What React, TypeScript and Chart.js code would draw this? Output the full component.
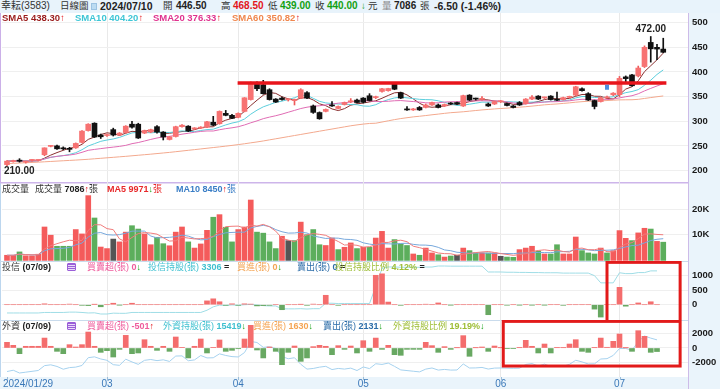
import React, { useEffect, useRef } from "react";
import { Chart, registerables } from "chart.js";
Chart.register(...registerables);

const FONT = "'Liberation Sans','Noto Sans CJK TC',sans-serif";
Chart.defaults.font.family = "'Liberation Sans', sans-serif";

// ---------- DATA ----------
const tradingDays: [string, number[]][] = [
  ["01", [29, 30, 31]],
  ["02", [1, 2, 5, 15, 16, 19, 20, 21, 22, 23, 26, 27, 29]],
  ["03", [1, 4, 5, 6, 7, 8, 11, 12, 13, 14, 15, 18, 19, 20, 21, 22, 25, 26, 27, 28, 29]],
  ["04", [1, 2, 3, 8, 9, 10, 11, 12, 15, 16, 17, 18, 19, 22, 23, 24, 25, 26, 29, 30]],
  ["05", [2, 3, 6, 7, 8, 9, 10, 13, 14, 15, 16, 17, 20, 21, 22, 23, 24, 27, 28, 29, 30, 31]],
  ["06", [3, 4, 5, 6, 7, 11, 12, 13, 14, 17, 18, 19, 20, 21, 24, 25, 26, 27, 28]],
  ["07", [1, 2, 3, 4, 5, 8, 9, 10]],
];
const dates = tradingDays.flatMap(([m, ds]) => ds.map((d) => `2024/${m}/${String(d).padStart(2, "0")}`));

const opens = [
  212, 218, 221, 217, 220.5, 220.5, 232, 249, 250, 246,
  245, 246, 257, 281, 296, 272, 271, 283, 272, 277,
  294, 294, 276, 278, 289, 278, 263, 269, 289, 290,
  284.5, 286, 288, 298, 295, 316, 312, 308, 320, 344,
  376, 374, 364, 345, 347, 343.5, 342, 347, 358, 331,
  317.7, 320, 332, 326, 334, 339.5, 343, 347, 351.7, 348,
  360.5, 362, 376, 358, 324, 323, 328, 328, 333, 333,
  331, 336, 338, 331, 353, 345.5, 344.5, 335, 335, 339.5,
  336, 331, 338, 336, 345, 351, 347.5, 351, 344.5, 344,
  348.5, 353, 366, 356, 342, 340, 347.5, 353.7, 354, 390,
  394, 392, 411, 460, 450, 446.5,
];
const highs = [
  220, 221, 224, 219, 222, 221.5, 246, 251, 251.5, 248,
  247, 256, 281, 295, 297, 274, 274, 286, 277, 291,
  300, 296, 282, 284, 291, 279, 269, 290, 293, 291,
  287, 289, 300, 310, 321, 322, 314, 317, 348, 380,
  380, 383, 366, 346, 349, 346, 345, 366, 360, 333,
  319, 325, 340, 331, 339, 346, 345, 348, 356, 351,
  367, 367, 379, 359, 330, 326, 330, 335, 339, 335,
  335, 338, 339, 353, 354, 347, 350, 337, 341, 342,
  337, 332, 340, 346, 352, 352, 349, 352, 359, 349,
  351, 371, 368, 358, 343, 349, 351, 358, 391, 392,
  395, 412, 453, 472, 456, 468.5,
];
const lows = [
  210, 217, 217, 215, 219, 219.5, 230, 248, 243, 242,
  238, 245, 256, 280, 267, 265, 269, 270, 271, 276,
  286, 265, 275, 277, 276, 262, 262, 268, 288, 279,
  283, 285, 287, 291, 294, 311, 305, 307, 319, 343,
  362, 355, 343, 338, 343, 341, 333, 346, 346, 316,
  304, 319, 330, 325, 333, 338, 337, 337, 341, 346,
  359, 361, 364, 346, 322, 322, 322, 327, 332, 327,
  330, 334, 334, 330, 342, 343, 343, 330, 334, 338,
  331, 327, 332, 335, 344, 344, 346, 343, 342, 343,
  347, 352, 361, 342, 325, 339, 347, 352, 350, 378,
  371, 390, 409, 420, 425, 439,
];
const closes = [
  219, 220, 219, 218.5, 221, 221, 246, 250, 244, 244,
  243, 255, 280, 294, 268, 268.5, 272, 272, 276, 290,
  288, 266, 281, 283, 278, 268, 268.5, 289, 292, 280,
  285, 288, 299, 292, 320, 312, 306, 316, 347.6, 378,
  366, 356, 344, 339, 344, 344, 343, 364, 347, 318,
  305, 324, 331, 330, 338, 340, 338, 338.5, 342, 349,
  366, 366.5, 365, 347, 323, 325, 323, 333, 338, 328,
  334, 335, 335, 352, 343, 345, 345.5, 331, 340, 340,
  332, 328, 333, 345, 349, 345, 348, 344, 342.6, 348,
  349, 370, 362, 343, 330, 348, 348, 357, 387, 386.5,
  372, 408, 450, 447, 446.5, 440,
];
// SMA60 before a full 60-day window exists
const sma60Head = [
  214, 214.6, 215.2, 215.8, 216.4, 217, 217.7, 218.4, 219.1, 219.8,
  220.5, 221.2, 222, 222.8, 223.8, 224.8, 225.8, 226.8, 227.8, 228.8,
  229.9, 231, 232.1, 233.2, 234.4, 235.6, 236.8, 238.2, 239.6, 241,
  242.4, 243.8, 245.2, 246.6, 248, 249.5, 251, 252.6, 254.3, 256.2,
  258, 260, 262.2, 264.4, 266.6, 268.8, 271, 273.2, 275.4, 277.6,
  279.8, 282, 284.2, 286.4, 288.6, 290.8, 292.6, 294.2, 295.5,
];
const volumes = [
  2000, 2000, 3300, 1800, 1800, 2400, 13000, 9800, 5500, 5500,
  5500, 12000, 10300, 25200, 16500, 5200, 4600, 8300, 7200, 11000,
  13500, 12200, 10300, 6100, 9000, 6500, 5700, 11000, 13000, 7200,
  4800, 6400, 11700, 16800, 17800, 12900, 7200, 12000, 13000, 23500,
  11000, 10600, 7200, 4600, 9400, 7700, 7700, 14900, 10000, 12000,
  6100, 5800, 8700, 4200, 5100, 6800, 4600, 5100, 5100, 8700,
  11300, 4800, 8100, 6400, 5800, 2500, 2000, 4800, 2900, 2200,
  1300, 1700, 2000, 4800, 3800, 2900, 2900, 2900, 2900, 1600,
  1300, 1200, 4200, 4800, 5500, 3600, 2500, 2500, 6100, 2500,
  2500, 9100, 3800, 2900, 2500, 4800, 2900, 3800, 11600, 8600,
  7700, 10700, 12500, 12200, 7400, 7086,
];
// r = up, g = down, k = unchanged (versus previous close)
const volDir =
  "rrgrrrrrgg" + "grrrgrrkrr" + "ggrrggrrrg" + "rrrgrggrrr" + "ggggrkgrgg" +
  "grrgrrgrgr" + "rrgggrgrrg" + "rgkrggrgrk" + "ggrrrgrggr" + "rrgggrgrrr" + "grrgrg";
const trustNet: (number | null)[] = [
  0, 0, 0, 0, 0, 0, 30, 0, 0, 0,
  20, 0, -20, -30, 10, -70, 0, 50, -10, 0,
  50, 0, 0, 0, 0, 0, 0, 0, 0, 0,
  0, 0, 130, 200, 100, -20, 30, -20, 30, 20,
  -40, -30, -20, 0, -170, 0, 0, 10, -20, 20,
  0, 320, 0, -20, 0, 0, 0, 0, 0, 1000,
  1050, 90, 0, -20, 0, 0, 0, 15, 0, 60,
  0, -10, 0, 0, 0, 0, 0, -340, 0, 0,
  -15, 0, -10, 0, -10, 0, -10, 0, 0, -20,
  0, 0, 0, 0, -150, -420, 0, 0, 590, -50,
  0, 60, 0, 100, 0, null,
];
const foreignNet: (number | null)[] = [
  800, 380, -800, 240, 240, 240, 1400, 240, -470, -800,
  470, 140, 470, 2250, 240, -610, -380, -1270, -190, 1780,
  -800, -700, 1170, 240, -330, 240, -470, 1550, 50, -1400,
  240, 1270, -700, 50, 1130, -470, -330, -100, 1270, 3190,
  -280, -1400, 140, -470, -2350, -610, 280, -1880, -1400, 190,
  380, 240, -940, 330, -190, 280, -700, 1030, -470, 1400,
  -190, 380, -940, -1030, -190, -190, -190, 800, 330, -610,
  190, -190, 30, 1740, -1170, 30, 140, -470, 280, 30,
  -50, -50, 40, 1080, 240, -700, 560, -700, 40, 40,
  560, 1170, -470, -610, 40, 1400, 100, 940, 1970, 20,
  -470, 2440, 1640, -610, -501, null,
];
const trustHoldLast = 3306;
const foreignHoldLast = 15419;
const smaLegend = ["438.30", "404.20", "376.33", "350.82"];
const volMaLegend = ["9971", "8450"];

const priceTicks = [200, 225, 250, 275, 300, 325, 350, 375, 400, 425, 450, 475, 500];
const volTicks = [10000, 20000];
const trustTicks = [0, 500, 1000];
const foreignTicks = [-2000, 0, 2000];

const PRICE_RANGE = [176.7, 519.7];
const VOL_RANGE = [-233, 30506];
const TRUST_RANGE = [-520, 1486];
const FOREIGN_RANGE = [-4085, 3944];
const X_RANGE = [-0.8, 108.96];

// annotations (drawn in data units)
const resistance = { price: 377.6, from: 36.9, to: 105.5 };
const trustBox = { x0: 96, x1: 107.7, top: 1440, bottom: -700 };
const foreignBox = { x0: 79.4, x1: 107.7, top: 3750, bottom: -2540 };
const blueMark = { idx: 96, price: 369 };

// ---------- DERIVED ----------
const N = closes.length;
const idx = closes.map((_, i) => i);
function sma(values: number[], n: number, head?: number[]) {
  return values.map((_, i) => {
    if (head && i < head.length) return head[i];
    const w = values.slice(Math.max(0, i - n + 1), i + 1);
    return w.reduce((a, b) => a + b, 0) / w.length;
  });
}
function holdings(net: (number | null)[], last: number) {
  const total = net.reduce((a: number, b) => a + (b ?? 0), 0);
  let h = last - total;
  return net.map((v) => (v == null ? null : (h += v)));
}
function fitAxis(vals: (number | null)[], top: number, bottom: number, H: number) {
  const v = vals.filter((x) => x != null) as number[];
  const lo = Math.min(...v), hi = Math.max(...v);
  const R = ((hi - lo) * H) / (bottom - top);
  const max = hi + (R * top) / H;
  return { min: max - R, max };
}
const monthTicks = (() => {
  const out = [{ idx: 0, label: dates[0] }];
  for (let i = 1; i < dates.length; i++) {
    const m = dates[i].slice(5, 7);
    if (m !== dates[i - 1].slice(5, 7) && i >= 10) out.push({ idx: i, label: m });
  }
  return out;
})();

const UP = "#f77272", UP_EDGE = "#ee5a5a", DOWN = "#111111";
const V_RED = "#f45b5b", V_GREEN = "#5cae5c", V_GRAY = "#555555";
const B_RED = "#f46d6d", B_GREEN = "#68a862";

function xAxis(labels: boolean) {
  return {
    type: "linear",
    min: X_RANGE[0],
    max: X_RANGE[1],
    offset: false,
    bounds: "data",
    afterBuildTicks: (s: any) => { s.ticks = monthTicks.map((t) => ({ value: t.idx })); },
    ticks: { display: false },
    grid: {
      offset: false,
      color: (c: any) => (c.tick && c.tick.value === 0 ? "rgba(0,0,0,0)" : "#e9e9e9"),
      drawTicks: false,
    },
    border: { display: false },
    afterFit: (s: any) => { s.height = labels ? 12 : 0; s.paddingLeft = 0; s.paddingRight = 0; },
  };
}
function yAxis(range: number[], ticks: number[], fmt?: (v: number) => string) {
  return {
    position: "right",
    min: range[0],
    max: range[1],
    afterBuildTicks: (s: any) => { s.ticks = ticks.map((v) => ({ value: v })); },
    afterFit: (s: any) => { s.width = 32; s.paddingTop = 0; s.paddingBottom = 0; },
    ticks: {
      padding: 4,
      color: "#1a1a1a",
      font: { size: 9.5, weight: "bold" },
      callback: (v: any) => (fmt ? fmt(Number(v)) : String(v)),
    },
    grid: { color: "#efefef", drawTicks: false },
    border: { display: false },
  };
}
function frame(opts: { edge: string; topLine?: string; topWidth?: number; bottomBand?: boolean }) {
  return {
    id: "frame",
    beforeDraw(chart: any) {
      const { ctx, chartArea: a, width, height } = chart;
      ctx.save();
      ctx.fillStyle = "#eaf4fb";
      ctx.fillRect(a.right, 0, width - a.right, height);
      if (opts.bottomBand) ctx.fillRect(0, a.bottom, a.right, height - a.bottom);
      ctx.strokeStyle = opts.edge;
      ctx.lineWidth = 1;
      ctx.beginPath();
      ctx.moveTo(0.5, 0);
      ctx.lineTo(0.5, opts.bottomBand ? a.bottom : height);
      ctx.stroke();
      ctx.strokeStyle = "#cdbbe9";
      ctx.beginPath();
      ctx.moveTo(a.right + 0.5, 0);
      ctx.lineTo(a.right + 0.5, height);
      ctx.stroke();
      if (opts.topLine) {
        ctx.fillStyle = opts.topLine;
        ctx.fillRect(0, 0, a.right, opts.topWidth || 1);
      }
      ctx.restore();
    },
  };
}
const baseOpts = {
  animation: false,
  responsive: false,
  events: [],
  layout: { padding: { left: 2, right: 0, top: 0, bottom: 0 } },
  plugins: { legend: { display: false }, tooltip: { enabled: false } },
};

function useChart(build: () => any) {
  const ref = useRef<HTMLCanvasElement>(null);
  useEffect(() => {
    if (!ref.current) return;
    const c = new Chart(ref.current, build());
    return () => c.destroy();
  }, []);
  return ref;
}

function PriceChart() {
  const ref = useChart(() => {
    const sma5 = sma(closes, 5), sma10 = sma(closes, 10), sma20 = sma(closes, 20), sma60 = sma(closes, 60, sma60Head);
    const up = idx.map((i) => closes[i] >= opens[i]);
    const line = (vals: number[], color: string) => ({
      type: "line",
      data: idx.map((i) => ({ x: i, y: vals[i] })),
      borderColor: color,
      borderWidth: 1,
      pointRadius: 0,
      tension: 0,
      order: 3,
    });
    const annot = {
      id: "annot",
      afterDatasetsDraw(chart: any) {
        const { ctx, scales: { x, y }, chartArea: a } = chart;
        ctx.save();
        ctx.strokeStyle = "#e8141b";
        ctx.lineWidth = 3.5;
        ctx.beginPath();
        ctx.moveTo(x.getPixelForValue(resistance.from), y.getPixelForValue(resistance.price));
        ctx.lineTo(x.getPixelForValue(resistance.to), y.getPixelForValue(resistance.price));
        ctx.stroke();
        let hiI = 0, loI = 0;
        idx.forEach((i) => { if (highs[i] > highs[hiI]) hiI = i; if (lows[i] < lows[loI]) loI = i; });
        ctx.font = "bold 10px 'Liberation Sans'";
        ctx.fillStyle = "#222";
        ctx.textAlign = "center";
        ctx.textBaseline = "bottom";
        ctx.fillText(highs[hiI].toFixed(2), x.getPixelForValue(hiI), y.getPixelForValue(highs[hiI]) - 2);
        const loTxt = lows[loI].toFixed(2);
        const w = ctx.measureText(loTxt).width;
        const lx = Math.max(a.left + 2 + w / 2, x.getPixelForValue(loI));
        ctx.textBaseline = "top";
        ctx.fillText(loTxt, lx, y.getPixelForValue(lows[loI]) + 1);
        ctx.fillStyle = "#4d8fe0";
        const bx = x.getPixelForValue(blueMark.idx), by = y.getPixelForValue(blueMark.price);
        ctx.fillRect(bx - 2, by - 2.5, 4, 5);
        ctx.restore();
      },
    };
    return {
      type: "bar",
      data: {
        datasets: [
          {
            type: "bar",
            data: idx.map((i) => ({ x: i, y: [lows[i], highs[i]] })),
            backgroundColor: idx.map((i) => (up[i] ? UP_EDGE : DOWN)),
            barThickness: 1,
            grouped: false,
            order: 2,
          },
          {
            type: "bar",
            data: idx.map((i) => ({ x: i, y: [opens[i], closes[i]] })),
            backgroundColor: idx.map((i) => (up[i] ? UP : DOWN)),
            borderWidth: 0,
            barThickness: 5,
            minBarLength: 1,
            grouped: false,
            order: 1,
          },
          line(sma60, "#f3a98e"),
          line(sma20, "#e06cb4"),
          line(sma10, "#5ccedc"),
          line(sma5, "#8a3030"),
        ],
      },
      options: { ...baseOpts, scales: { x: xAxis(false), y: yAxis(PRICE_RANGE, priceTicks) } },
      plugins: [frame({ edge: "#cbb0e8" }), annot],
    };
  });
  return <canvas ref={ref} width={720} height={169} style={{ position: "absolute", left: 0, top: 13 }} />;
}

function VolumeChart() {
  const ref = useChart(() => {
    const ma5 = sma(volumes, 5), ma10 = sma(volumes, 10);
    const col = (c: string) => (c === "r" ? V_RED : c === "g" ? V_GREEN : V_GRAY);
    const line = (vals: number[], color: string) => ({
      type: "line",
      data: idx.map((i) => ({ x: i, y: vals[i] })),
      borderColor: color,
      borderWidth: 1,
      pointRadius: 0,
      order: 0,
    });
    return {
      type: "bar",
      data: {
        datasets: [
          {
            type: "bar",
            data: idx.map((i) => ({ x: i, y: volumes[i] })),
            backgroundColor: idx.map((i) => col(volDir[i])),
            barThickness: 5,
            grouped: false,
            order: 1,
          },
          line(ma5, "#f07c7c"),
          line(ma10, "#77a8dc"),
        ],
      },
      options: {
        ...baseOpts,
        scales: { x: xAxis(false), y: yAxis(VOL_RANGE, volTicks, (v) => `${v / 1000}K`) },
      },
      plugins: [frame({ edge: "#bcd6ee", topLine: "#cdb5ea", topWidth: 1.5 })],
    };
  });
  return <canvas ref={ref} width={720} height={79} style={{ position: "absolute", left: 0, top: 182 }} />;
}

function FlowChart({ net, last, range, ticks, holdColor, fit, box, top, height, labels }: any) {
  const ref = useChart(() => {
    const hold = holdings(net, last);
    const H = height - (labels ? 12 : 0);
    const hAxis = fitAxis(hold, fit[0], fit[1], H);
    const annot = {
      id: "annot",
      afterDraw(chart: any) {
        const { ctx, scales: { x, y }, chartArea: a } = chart;
        ctx.save();
        ctx.strokeStyle = "#e21a1a";
        ctx.lineWidth = 3;
        const x0 = x.getPixelForValue(box.x0), x1 = x.getPixelForValue(box.x1);
        const y0 = y.getPixelForValue(box.top), y1 = y.getPixelForValue(box.bottom);
        ctx.strokeRect(x0, y0, x1 - x0, y1 - y0);
        if (labels) {
          ctx.font = "10px 'Liberation Sans'";
          ctx.fillStyle = "#3a78b8";
          ctx.textBaseline = "middle";
          ctx.strokeStyle = "#9bbcd8";
          ctx.lineWidth = 1;
          monthTicks.forEach((t) => {
            const px = x.getPixelForValue(t.idx);
            const w = ctx.measureText(t.label).width;
            const left = Math.max(3, px - w / 2);
            ctx.fillText(t.label, left, a.bottom + 7);
            ctx.beginPath();
            ctx.moveTo(Math.round(px) + 0.5, a.bottom);
            ctx.lineTo(Math.round(px) + 0.5, a.bottom + 3);
            ctx.stroke();
          });
        }
        ctx.restore();
      },
    };
    return {
      type: "bar",
      data: {
        datasets: [
          {
            type: "bar",
            data: idx.map((i) => ({ x: i, y: net[i] })),
            backgroundColor: idx.map((i) => ((net[i] ?? 0) >= 0 ? B_RED : B_GREEN)),
            barThickness: 5,
            grouped: false,
            order: 1,
          },
          {
            type: "line",
            yAxisID: "yh",
            data: idx.map((i) => ({ x: i, y: hold[i] })),
            borderColor: holdColor,
            borderWidth: 1,
            pointRadius: 0,
            order: 2,
          },
        ],
      },
      options: {
        ...baseOpts,
        scales: {
          x: xAxis(labels),
          y: yAxis(range, ticks),
          yh: { display: false, position: "left", min: hAxis.min, max: hAxis.max },
        },
      },
      plugins: [frame({ edge: "#bcd6ee", topLine: "#c9dbec", topWidth: 1, bottomBand: labels }), annot],
    };
  });
  return <canvas ref={ref} width={720} height={height} style={{ position: "absolute", left: 0, top }} />;
}

type Part = [string, string, boolean?];
function Label({ x, y, parts, size = 9.5 }: { x: number; y: number; parts: Part[]; size?: number }) {
  return (
    <div
      style={{
        position: "absolute", left: x, top: y, height: 12, lineHeight: "12px", fontSize: size,
        whiteSpace: "nowrap", fontFamily: FONT, pointerEvents: "none",
      }}
    >
      {parts.map((p, i) => (
        <span key={i} style={{ color: p[1], fontWeight: p[2] ? 700 : 400 }}>{p[0]}</span>
      ))}
    </div>
  );
}
function ListIcon({ x, y }: { x: number; y: number }) {
  return (
    <div
      style={{
        position: "absolute", left: x, top: y, width: 9, height: 8, borderRadius: 1,
        background: "repeating-linear-gradient(#9b5fd8 0px, #9b5fd8 1px, #e9dcf8 1px, #e9dcf8 2px)",
        border: "1px solid #9b5fd8", boxSizing: "border-box",
      }}
    />
  );
}

const RED = "#e3161c", GREEN = "#12a012", PINK = "#ef5b9c", CYAN = "#3fc0d0", ORANGE = "#f4a453", NAVY = "#2b6ca8", OLIVE = "#9dbd35";

export default function App() {
  const L = N - 1;
  const chg = closes[L] - closes[L - 1];
  const pct = (chg / closes[L - 1]) * 100;
  const up = (v: boolean): Part => [v ? "↑" : "↓", v ? RED : GREEN, true];
  const NUM = 10, CJK = 9.5;
  return (
    <div style={{ position: "fixed", left: 0, top: 0, width: 720, height: 389, overflow: "hidden", background: "#fff" }}>
      <div style={{ position: "absolute", left: 0, top: 0, width: 720, height: 13, background: "#e8f3fb" }} />
      <PriceChart />
      <VolumeChart />
      <FlowChart net={trustNet} last={trustHoldLast} range={TRUST_RANGE} ticks={trustTicks} holdColor="#9fdde6"
        fit={[5, 53]} box={trustBox} top={261} height={59} labels={false} />
      <FlowChart net={foreignNet} last={foreignHoldLast} range={FOREIGN_RANGE} ticks={foreignTicks} holdColor="#a6d2ef"
        fit={[16, 53]} box={foreignBox} top={320} height={69} labels={true} />

      {/* top header */}
      <Label x={1} y={0} size={10} parts={[["幸耘(3583)", "#333"]]} />
      <Label x={60} y={0} size={CJK} parts={[["日線圖", "#333"]]} />
      <div style={{ position: "absolute", left: 91, top: 3, width: 6, height: 7, background: "#bcdcf2", border: "1px solid #9cc3e2", boxSizing: "border-box" }} />
      <Label x={100} y={0} size={10.5} parts={[[dates[L], "#222", true]]} />
      <Label x={163} y={0} size={CJK} parts={[["開", "#333"]]} />
      <Label x={176} y={0} size={NUM} parts={[[opens[L].toFixed(2), "#222", true]]} />
      <Label x={221} y={0} size={CJK} parts={[["高", "#333"]]} />
      <Label x={233} y={0} size={NUM} parts={[[highs[L].toFixed(2), RED, true]]} />
      <Label x={268} y={0} size={CJK} parts={[["低", "#333"]]} />
      <Label x={280} y={0} size={NUM} parts={[[lows[L].toFixed(2), GREEN, true]]} />
      <Label x={315} y={0} size={CJK} parts={[["收", "#333"]]} />
      <Label x={327} y={0} size={NUM} parts={[[closes[L].toFixed(2), GREEN, true]]} />
      <Label x={361} y={0} size={CJK} parts={[up(chg > 0)]} />
      <Label x={368} y={0} size={CJK} parts={[["元", "#333"]]} />
      <Label x={382} y={0} size={CJK} parts={[["量", "#888"]]} />
      <Label x={394} y={0} size={NUM} parts={[[String(volumes[L]), "#222", true]]} />
      <Label x={420} y={0} size={CJK} parts={[["張", "#333"]]} />
      <Label x={434} y={0} size={10.5} parts={[[`${chg.toFixed(2)} (${pct.toFixed(2)}%)`, "#222", true]]} />

      {/* SMA legend */}
      <Label x={2} y={12} size={9.5} parts={[["SMA5 " + smaLegend[0], "#9a1c1c", true], up(true)]} />
      <Label x={75} y={12} size={9.5} parts={[["SMA10 " + smaLegend[1], "#3ec6d6", true], up(true)]} />
      <Label x={153} y={12} size={9.5} parts={[["SMA20 " + smaLegend[2], "#e0338f", true], up(true)]} />
      <Label x={232} y={12} size={9.5} parts={[["SMA60 " + smaLegend[3], "#f0874e", true], up(true)]} />

      {/* volume legend */}
      <Label x={2} y={183} size={9} parts={[["成交量", "#333"]]} />
      <Label x={35} y={183} size={9} parts={[["成交量 ", "#333"], [String(volumes[L]), "#222", true], up(true), ["張", "#333"]]} />
      <Label x={107} y={183} size={9} parts={[["MA5 " + volMaLegend[0], "#e8282a", true], up(false), ["張", "#e8282a"]]} />
      <Label x={176} y={183} size={9} parts={[["MA10 " + volMaLegend[1], "#3a7ec6", true], up(true), ["張", "#3a7ec6"]]} />

      {/* 投信 legend */}
      <Label x={2} y={261} size={9} parts={[["投信 ", "#333"], [" (07/09)", "#222", true]]} />
      <ListIcon x={67} y={263} />
      <Label x={87} y={261} size={9} parts={[["買賣超(張) ", PINK], ["0", PINK, true], up(false)]} />
      <Label x={148} y={261} size={9} parts={[["投信持股(張) ", CYAN], ["3306", CYAN, true], [" =", "#222", true]]} />
      <Label x={237} y={261} size={9} parts={[["買進(張) ", ORANGE], ["0", ORANGE, true], up(false)]} />
      <Label x={297} y={261} size={9} parts={[["賣出(張) ", NAVY], ["0", NAVY, true], [" =", "#222", true]]} />
      <Label x={335} y={261} size={9} parts={[["投信持股比例 ", OLIVE], ["4.12%", OLIVE, true], [" =", "#222", true]]} />

      {/* 外資 legend */}
      <Label x={2} y={320} size={9} parts={[["外資 ", "#333"], [" (07/09)", "#222", true]]} />
      <ListIcon x={67} y={322} />
      <Label x={87} y={320} size={9} parts={[["買賣超(張) ", PINK], ["-501", PINK, true], up(true)]} />
      <Label x={163} y={320} size={9} parts={[["外資持股(張) ", CYAN], ["15419", CYAN, true], up(false)]} />
      <Label x={253} y={320} size={9} parts={[["買進(張) ", ORANGE], ["1630", ORANGE, true], up(false)]} />
      <Label x={323} y={320} size={9} parts={[["賣出(張) ", NAVY], ["2131", NAVY, true], up(false)]} />
      <Label x={393} y={320} size={9} parts={[["外資持股比例 ", OLIVE], ["19.19%", OLIVE, true], up(false)]} />
    </div>
  );
}
